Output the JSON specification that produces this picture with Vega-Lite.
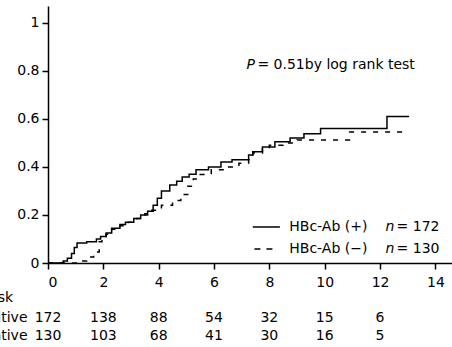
{
  "$schema": "https://vega.github.io/schema/vega-lite/v6.json",
  "autosize": {"type": "none"},
  "padding": {"left": 48, "top": 6, "right": 0, "bottom": 84},
  "background": "white",
  "width": 404,
  "height": 257,
  "data": {"values": [{}]},
  "config": {
    "font": "DejaVu Sans",
    "view": {"stroke": null},
    "text": {"font": "DejaVu Sans", "fontSize": 14, "color": "black"},
    "axis": {
      "domainColor": "black", "domainWidth": 1.5, "tickColor": "black", "tickWidth": 1.5,
      "tickSize": 6, "labelColor": "black", "labelFontSize": 14, "labelFont": "DejaVu Sans",
      "grid": false, "title": null
    }
  },
  "datasets": {
    "curves": [
      {"group": "pos", "t": 0, "p": 0}, {"group": "pos", "t": 0.5, "p": 0}, {"group": "pos", "t": 0.55, "p": 0.008},
      {"group": "pos", "t": 0.7, "p": 0.02}, {"group": "pos", "t": 0.85, "p": 0.04}, {"group": "pos", "t": 0.95, "p": 0.065},
      {"group": "pos", "t": 1.05, "p": 0.083}, {"group": "pos", "t": 1.4, "p": 0.088}, {"group": "pos", "t": 1.75, "p": 0.1},
      {"group": "pos", "t": 1.9, "p": 0.11}, {"group": "pos", "t": 2.1, "p": 0.125}, {"group": "pos", "t": 2.3, "p": 0.145},
      {"group": "pos", "t": 2.6, "p": 0.16}, {"group": "pos", "t": 2.8, "p": 0.17}, {"group": "pos", "t": 3.1, "p": 0.185},
      {"group": "pos", "t": 3.35, "p": 0.2}, {"group": "pos", "t": 3.6, "p": 0.215}, {"group": "pos", "t": 3.8, "p": 0.24},
      {"group": "pos", "t": 3.95, "p": 0.27}, {"group": "pos", "t": 4.1, "p": 0.3}, {"group": "pos", "t": 4.4, "p": 0.325},
      {"group": "pos", "t": 4.65, "p": 0.34}, {"group": "pos", "t": 4.85, "p": 0.358}, {"group": "pos", "t": 5.1, "p": 0.37},
      {"group": "pos", "t": 5.35, "p": 0.388}, {"group": "pos", "t": 5.8, "p": 0.4}, {"group": "pos", "t": 6.25, "p": 0.42},
      {"group": "pos", "t": 6.65, "p": 0.43}, {"group": "pos", "t": 7.25, "p": 0.45}, {"group": "pos", "t": 7.4, "p": 0.463},
      {"group": "pos", "t": 7.75, "p": 0.483}, {"group": "pos", "t": 8.2, "p": 0.505}, {"group": "pos", "t": 8.75, "p": 0.52},
      {"group": "pos", "t": 9.25, "p": 0.538}, {"group": "pos", "t": 9.85, "p": 0.56}, {"group": "pos", "t": 12.25, "p": 0.61},
      {"group": "pos", "t": 13.05, "p": 0.61},
      {"group": "neg", "t": 0, "p": 0}, {"group": "neg", "t": 0.9, "p": 0}, {"group": "neg", "t": 1.05, "p": 0.008},
      {"group": "neg", "t": 1.4, "p": 0.025}, {"group": "neg", "t": 1.65, "p": 0.046}, {"group": "neg", "t": 1.85, "p": 0.088},
      {"group": "neg", "t": 1.95, "p": 0.11}, {"group": "neg", "t": 2.1, "p": 0.12}, {"group": "neg", "t": 2.3, "p": 0.14},
      {"group": "neg", "t": 2.6, "p": 0.155}, {"group": "neg", "t": 2.9, "p": 0.17}, {"group": "neg", "t": 3.2, "p": 0.185},
      {"group": "neg", "t": 3.5, "p": 0.205}, {"group": "neg", "t": 3.75, "p": 0.22}, {"group": "neg", "t": 4.1, "p": 0.24},
      {"group": "neg", "t": 4.5, "p": 0.26}, {"group": "neg", "t": 4.8, "p": 0.285}, {"group": "neg", "t": 5.05, "p": 0.32},
      {"group": "neg", "t": 5.25, "p": 0.35}, {"group": "neg", "t": 5.5, "p": 0.368}, {"group": "neg", "t": 5.9, "p": 0.388},
      {"group": "neg", "t": 6.4, "p": 0.4}, {"group": "neg", "t": 6.9, "p": 0.415}, {"group": "neg", "t": 7.25, "p": 0.43},
      {"group": "neg", "t": 7.4, "p": 0.458}, {"group": "neg", "t": 7.75, "p": 0.475}, {"group": "neg", "t": 8.0, "p": 0.49},
      {"group": "neg", "t": 8.5, "p": 0.5}, {"group": "neg", "t": 9.0, "p": 0.512}, {"group": "neg", "t": 10.9, "p": 0.545},
      {"group": "neg", "t": 13.05, "p": 0.545}
    ],
    "risk": [
      {"group": "Positive", "t": 0, "n": 172}, {"group": "Positive", "t": 2, "n": 138}, {"group": "Positive", "t": 4, "n": 88},
      {"group": "Positive", "t": 6, "n": 54}, {"group": "Positive", "t": 8, "n": 32}, {"group": "Positive", "t": 10, "n": 15},
      {"group": "Positive", "t": 12, "n": 6},
      {"group": "Negative", "t": 0, "n": 130}, {"group": "Negative", "t": 2, "n": 103}, {"group": "Negative", "t": 4, "n": 68},
      {"group": "Negative", "t": 6, "n": 41}, {"group": "Negative", "t": 8, "n": 30}, {"group": "Negative", "t": 10, "n": 16},
      {"group": "Negative", "t": 12, "n": 5}
    ]
  },
  "encoding": {
    "x": {"type": "quantitative", "scale": {"domain": [0, 14.6], "nice": false, "zero": false},
          "axis": {"values": [0, 2, 4, 6, 8, 10, 12, 14], "labelPadding": 6, "format": "d"}},
    "y": {"type": "quantitative", "scale": {"domain": [0, 1.07], "nice": false},
          "axis": {"values": [0, 0.2, 0.4, 0.6, 0.8, 1], "format": "~g", "labelPadding": 3}}
  },
  "layer": [
    {
      "data": {"name": "curves"},
      "mark": {"type": "line", "interpolate": "step-after", "color": "black", "strokeWidth": 1.5},
      "encoding": {
        "x": {"field": "t", "type": "quantitative"},
        "y": {"field": "p", "type": "quantitative"},
        "strokeDash": {"field": "group", "type": "nominal", "scale": {"domain": ["pos", "neg"], "range": [[1, 0], [5, 7]]}, "legend": null}
      }
    },
    {
      "data": {"name": "risk"},
      "transform": [{"filter": "datum.group === 'Positive'"}],
      "mark": {"type": "text", "align": "center", "baseline": "middle"},
      "encoding": {"x": {"field": "t", "type": "quantitative"}, "y": {"datum": -0.227}, "text": {"field": "n", "type": "quantitative"}}
    },
    {
      "data": {"name": "risk"},
      "transform": [{"filter": "datum.group === 'Negative'"}],
      "mark": {"type": "text", "align": "center", "baseline": "middle"},
      "encoding": {"x": {"field": "t", "type": "quantitative"}, "y": {"datum": -0.304}, "text": {"field": "n", "type": "quantitative"}}
    },
    {
      "mark": {"type": "text", "align": "right", "baseline": "middle"},
      "encoding": {"x": {"datum": -1.26}, "y": {"datum": -0.146}, "text": {"value": "No. at risk"}}
    },
    {
      "mark": {"type": "text", "align": "right", "baseline": "middle"},
      "encoding": {"x": {"datum": -0.74}, "y": {"datum": -0.227}, "text": {"value": "Positive"}}
    },
    {
      "mark": {"type": "text", "align": "right", "baseline": "middle"},
      "encoding": {"x": {"datum": -0.74}, "y": {"datum": -0.304}, "text": {"value": "Negative"}}
    },
    {
      "mark": {"type": "text", "fontStyle": "italic", "align": "left", "baseline": "middle"},
      "encoding": {"x": {"datum": 7.17}, "y": {"datum": 0.825}, "text": {"value": "P"}}
    },
    {
      "mark": {"type": "text", "align": "left", "baseline": "middle", "dx": 11},
      "encoding": {"x": {"datum": 7.17}, "y": {"datum": 0.825}, "text": {"value": "= 0.51by log rank test"}}
    },
    {
      "mark": {"type": "rule", "color": "black", "strokeWidth": 1.5},
      "encoding": {"x": {"datum": 7.4}, "x2": {"datum": 8.38}, "y": {"datum": 0.15}}
    },
    {
      "mark": {"type": "rule", "color": "black", "strokeWidth": 1.5, "strokeDash": [6, 6]},
      "encoding": {"x": {"datum": 7.46}, "x2": {"datum": 8.16}, "y": {"datum": 0.058}}
    },
    {
      "mark": {"type": "text", "align": "left", "baseline": "middle"},
      "encoding": {"x": {"datum": 8.72}, "y": {"datum": 0.15}, "text": {"value": "HBc-Ab (+)"}}
    },
    {
      "mark": {"type": "text", "align": "left", "baseline": "middle"},
      "encoding": {"x": {"datum": 8.72}, "y": {"datum": 0.058}, "text": {"value": "HBc-Ab (−)"}}
    },
    {
      "mark": {"type": "text", "align": "left", "baseline": "middle", "fontStyle": "italic"},
      "encoding": {"x": {"datum": 12.2}, "y": {"datum": 0.15}, "text": {"value": "n"}}
    },
    {
      "mark": {"type": "text", "align": "left", "baseline": "middle", "fontStyle": "italic"},
      "encoding": {"x": {"datum": 12.2}, "y": {"datum": 0.058}, "text": {"value": "n"}}
    },
    {
      "mark": {"type": "text", "align": "left", "baseline": "middle", "dx": 11},
      "encoding": {"x": {"datum": 12.2}, "y": {"datum": 0.15}, "text": {"value": "= 172"}}
    },
    {
      "mark": {"type": "text", "align": "left", "baseline": "middle", "dx": 11},
      "encoding": {"x": {"datum": 12.2}, "y": {"datum": 0.058}, "text": {"value": "= 130"}}
    }
  ]
}
